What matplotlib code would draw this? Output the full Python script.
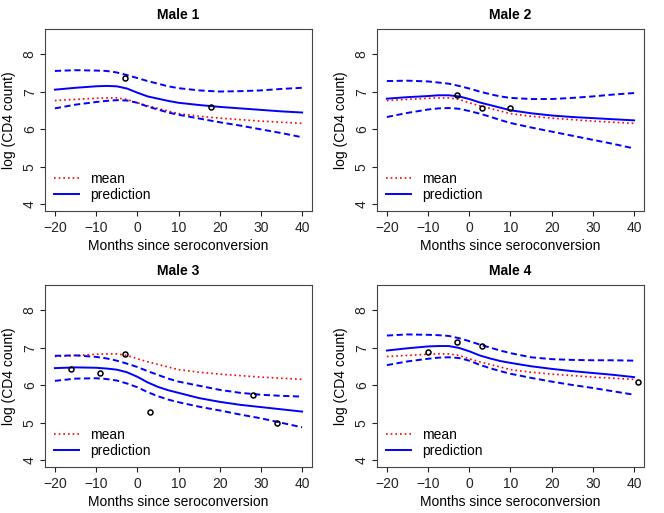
import numpy as np
import matplotlib
matplotlib.use('Agg')
import matplotlib.pyplot as plt

plt.rcParams['font.family'] = ['Liberation Sans', 'DejaVu Sans']

months = [-20, -15, -10, -7.5, -5, -2.5, 0, 2.5, 5, 7.5, 10, 15, 20, 25, 30, 35, 40]
mean_curve = [6.77, 6.80, 6.83, 6.84, 6.84, 6.80, 6.71, 6.63, 6.56, 6.49, 6.42,
              6.35, 6.30, 6.26, 6.22, 6.19, 6.16]

titles = ['Male 1', 'Male 2', 'Male 3', 'Male 4']

pred = [
    [7.06, 7.11, 7.15, 7.16, 7.15, 7.09, 6.98, 6.88, 6.82, 6.76, 6.71, 6.65, 6.60, 6.56, 6.52, 6.48, 6.45],
    [6.82, 6.86, 6.89, 6.91, 6.91, 6.88, 6.81, 6.72, 6.65, 6.58, 6.51, 6.43, 6.37, 6.33, 6.30, 6.27, 6.24],
    [6.46, 6.48, 6.47, 6.45, 6.42, 6.35, 6.23, 6.08, 5.96, 5.87, 5.80, 5.66, 5.56, 5.48, 5.42, 5.36, 5.30],
    [6.93, 6.99, 7.04, 7.05, 7.05, 7.00, 6.91, 6.80, 6.72, 6.65, 6.60, 6.51, 6.44, 6.38, 6.33, 6.28, 6.22],
]
upper = [
    [7.56, 7.58, 7.57, 7.56, 7.52, 7.45, 7.37, 7.29, 7.22, 7.15, 7.10, 7.04, 7.01, 7.02, 7.04, 7.08, 7.11],
    [7.29, 7.30, 7.28, 7.25, 7.22, 7.16, 7.09, 7.01, 6.94, 6.88, 6.84, 6.81, 6.81, 6.84, 6.88, 6.93, 6.97],
    [6.79, 6.80, 6.76, 6.72, 6.66, 6.58, 6.49, 6.38, 6.28, 6.18, 6.10, 5.99, 5.88, 5.80, 5.75, 5.72, 5.70],
    [7.33, 7.36, 7.35, 7.34, 7.32, 7.26, 7.18, 7.09, 7.01, 6.93, 6.86, 6.75, 6.70, 6.68, 6.67, 6.67, 6.66],
]
lower = [
    [6.56, 6.66, 6.73, 6.76, 6.78, 6.77, 6.71, 6.61, 6.53, 6.45, 6.39, 6.29, 6.19, 6.10, 6.00, 5.90, 5.79],
    [6.33, 6.44, 6.53, 6.56, 6.57, 6.55, 6.49, 6.42, 6.34, 6.25, 6.17, 6.05, 5.94, 5.83, 5.72, 5.61, 5.49],
    [6.12, 6.18, 6.19, 6.17, 6.13, 6.05, 5.95, 5.82, 5.71, 5.62, 5.55, 5.43, 5.33, 5.22, 5.12, 5.00, 4.88],
    [6.54, 6.64, 6.71, 6.74, 6.75, 6.73, 6.66, 6.55, 6.46, 6.38, 6.31, 6.20, 6.10, 6.01, 5.93, 5.84, 5.75],
]

obs_t = [
    [-3, 18],
    [-3, 3, 10],
    [-16, -9, -3, 3, 28, 34],
    [-10, -3, 3, 41],
]
obs_y = [
    [7.38, 6.61],
    [6.92, 6.58, 6.57],
    [6.45, 6.32, 6.83, 5.29, 5.74, 5.00],
    [6.89, 7.15, 7.06, 6.09],
]

fig = plt.figure(figsize=(6.64, 5.13), dpi=100)
W, H = 664.0, 513.0
boxes = [(45, 29), (377, 29), (45, 285), (377, 285)]

for i in range(4):
    x0, y0 = boxes[i]
    ax = fig.add_axes([x0 / W, 1 - (y0 + 182) / H, 267 / W, 182 / H])
    ax.plot(months, mean_curve, color='red', lw=1.2, dashes=(1, 1.8), label='mean')
    ax.plot(months, pred[i], color='blue', lw=1.4, label='prediction')
    ax.plot(months, upper[i], color='blue', lw=1.4, dashes=(3.2, 1.8))
    ax.plot(months, lower[i], color='blue', lw=1.4, dashes=(3.2, 1.8))
    ax.plot(obs_t[i], obs_y[i], 'o', mfc='none', mec='black', ms=3.6, mew=1.1)
    ax.set_xlim(-22.4, 42.4)
    ax.set_ylim(3.82, 8.68)
    ax.set_xticks([-20, -10, 0, 10, 20, 30, 40])
    ax.set_yticks([4, 5, 6, 7, 8])
    ax.tick_params(labelsize=10, length=3.6, width=0.8, colors='#222222', pad=3.4)
    ax.tick_params(axis='y', pad=2.3)
    for lab in ax.get_yticklabels():
        lab.set_rotation(90)
        lab.set_va('center')
    for sp in ax.spines.values():
        sp.set_color('#444444')
        sp.set_linewidth(0.8)
    ax.set_title(titles[i], fontsize=10, fontweight='bold', pad=7.5)
    ax.set_xlabel('Months since seroconversion', fontsize=10, labelpad=3.4)
    ax.set_ylabel('log (CD4 count)', fontsize=10, labelpad=5)
    ax.legend(loc='lower left', bbox_to_anchor=(0.034, 0.05), frameon=False,
              fontsize=10, handlelength=1.8, handletextpad=0.8,
              borderpad=0, borderaxespad=0, labelspacing=0.12)

fig.savefig('out.png', dpi=100)
